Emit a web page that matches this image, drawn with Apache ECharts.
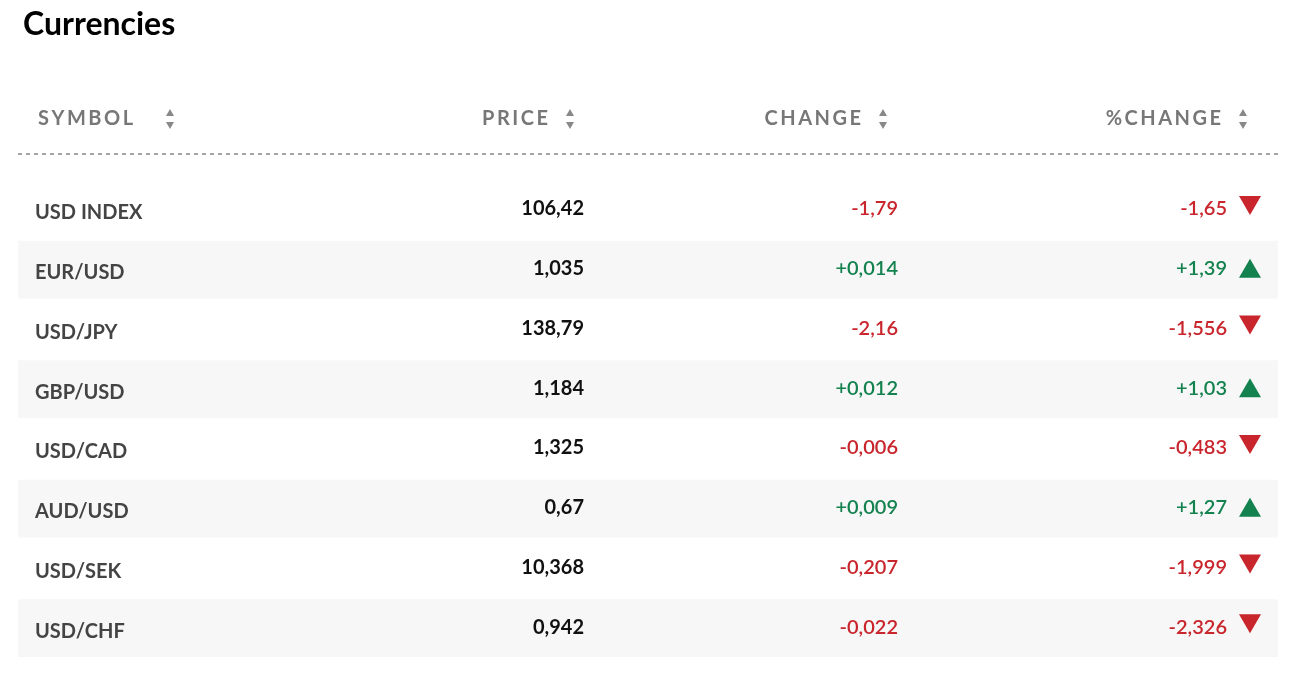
<!DOCTYPE html>
<html>
<head>
<meta charset="utf-8">
<script src="https://cdn.jsdelivr.net/npm/echarts@6/dist/echarts.min.js"></script>
<style>html,body{margin:0;padding:0;background:#fff}#main{width:1302px;height:676px}</style>
</head>
<body>
<div id="main"></div>
<script>
var symbols = ['USD INDEX','EUR/USD','USD/JPY','GBP/USD','USD/CAD','AUD/USD','USD/SEK','USD/CHF'];
var prices = ['106,42','1,035','138,79','1,184','1,325','0,67','10,368','0,942'];
var changes = ['-1,79','+0,014','-2,16','+0,012','-0,006','+0,009','-0,207','-0,022'];
var pctChanges = ['-1,65','+1,39','-1,556','+1,03','-0,483','+1,27','-1,999','-2,326'];
var headers = ['SYMBOL','PRICE','CHANGE','%CHANGE'];

var RED = '#c9252c', GREEN = '#14824f', FONT = 'Lato, "Open Sans", sans-serif';
function spaced(s){ return s.split('').join('\u2009'); }

var chart = echarts.init(document.getElementById('main'));

var headerEls = [];
var hx = [{x:38, align:'left', arrow:170}, {x:548, align:'right', arrow:570},
          {x:861, align:'right', arrow:883}, {x:1221, align:'right', arrow:1243}];
headers.forEach(function(h, i){
  headerEls.push({type:'text', left:null, x:hx[i].x, y:119,
    style:{text:spaced(h), fill:'#777', font:'bold 20px ' + FONT, textAlign:hx[i].align, textVerticalAlign:'middle'}});
  headerEls.push({type:'polygon', shape:{points:[[hx[i].arrow-4,116],[hx[i].arrow+4,116],[hx[i].arrow,109]]}, style:{fill:'#888'}});
  headerEls.push({type:'polygon', shape:{points:[[hx[i].arrow-4,122],[hx[i].arrow+4,122],[hx[i].arrow,129]]}, style:{fill:'#888'}});
});
headerEls.push({type:'line', shape:{x1:18, y1:154, x2:1278, y2:154},
  style:{stroke:'#888', lineWidth:1.5, lineDash:[4,4]}});

chart.setOption({
  animation:false,
  title:{text:'Currencies', left:18, top:4, textStyle:{fontFamily:FONT, fontSize:32, fontWeight:'bold', color:'#000'}},
  grid:{left:0, right:0, top:180, bottom:18},
  xAxis:{type:'value', min:0, max:1302, show:false},
  yAxis:{type:'category', data:symbols, inverse:true, show:false},
  graphic:headerEls,
  series:[{
    type:'custom',
    data:symbols.map(function(s, i){ return [0, i]; }),
    renderItem:function(params, api){
      var i = api.value(1);
      var yc = api.coord([0, i])[1];
      var h = api.size([0, 1])[1];
      var up = changes[i].charAt(0) === '+';
      var col = up ? GREEN : RED;
      var ty = yc + 3;
      var tri = up
        ? [[1239, yc+8],[1261, yc+8],[1250, yc-11]]
        : [[1239, yc-14],[1261, yc-14],[1250, yc+5]];
      return {type:'group', children:[
        {type:'rect', shape:{x:18, y:yc-h/2+1, width:1260, height:h-2}, style:{fill: i % 2 ? '#f7f7f7' : '#fff'}},
        {type:'text', style:{x:35, y:ty, text:symbols[i], fill:'#444', font:'bold 20px ' + FONT, textVerticalAlign:'middle'}},
        {type:'text', style:{x:584, y:yc-1, text:prices[i], fill:'#111', font:'bold 20px ' + FONT, textAlign:'right', textVerticalAlign:'middle'}},
        {type:'text', style:{x:898, y:yc-1, text:changes[i], fill:col, font:'600 20px ' + FONT, textAlign:'right', textVerticalAlign:'middle'}},
        {type:'text', style:{x:1227, y:yc-1, text:pctChanges[i], fill:col, font:'600 20px ' + FONT, textAlign:'right', textVerticalAlign:'middle'}},
        {type:'polygon', shape:{points:tri}, style:{fill:col}}
      ]};
    }
  }]
});
</script>
</body>
</html>
